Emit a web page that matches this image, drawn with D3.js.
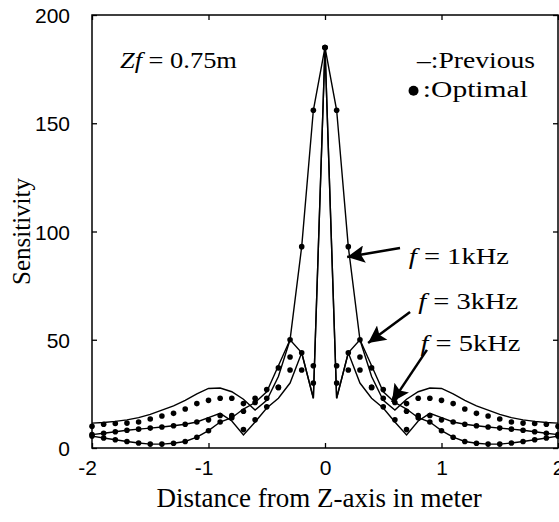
<!DOCTYPE html>
<html>
<head>
<meta charset="utf-8">
<script src="https://cdn.jsdelivr.net/npm/d3@7"></script>
<style>
  html, body { margin: 0; padding: 0; background: #fff; }
  svg { display: block; }
  .serif { font-family: "Liberation Serif", "Times New Roman", serif; }
  .sans { font-family: "Liberation Sans", Arial, sans-serif; }
</style>
</head>
<body>
<div id="chart"></div>
<script>
// Distance from Z-axis (m), one sample every 0.1 m
const xGrid = [-2.0, -1.9, -1.8, -1.7, -1.6, -1.5, -1.4, -1.3, -1.2, -1.1, -1.0, -0.9, -0.8, -0.7, -0.6, -0.5, -0.4, -0.3, -0.2, -0.1,
  0.0, 0.1, 0.2, 0.3, 0.4, 0.5, 0.6, 0.7, 0.8, 0.9, 1.0, 1.1, 1.2, 1.3, 1.4, 1.5, 1.6, 1.7, 1.8, 1.9, 2.0]

// "Previous" design (solid lines)
const prev1k = [11.5, 11.8, 12.3, 13, 14, 15.5, 17.5, 19.5, 22, 25, 27.5, 27.7, 26, 22.5, 17.5, 22, 33, 50, 93, 156,
  185, 156, 93, 50, 33, 22, 17.5, 22.5, 26, 27.7, 27.5, 25, 22, 19.5, 17.5, 15.5, 14, 13, 12.3, 11.8, 11.5]
const prev3k = [6.2, 6.8, 7.5, 8.2, 8.7, 9.2, 9.7, 10.3, 11, 12, 14, 16, 12.5, 6, 12, 18.5, 23, 30, 44, 23,
  185, 23, 44, 30, 23, 18.5, 12, 6, 12.5, 16, 14, 12, 11, 10.3, 9.7, 9.2, 8.7, 8.2, 7.5, 6.8, 6.2]
const prev5k = [5.5, 4.6, 3.8, 3, 2.3, 1.8, 1.8, 2.2, 3, 5, 8, 12, 14, 18, 21, 26, 38, 50, 44, 23,
  185, 23, 44, 50, 38, 26, 21, 18, 14, 12, 8, 5, 3, 2.2, 1.8, 1.8, 2.3, 3, 3.8, 4.6, 5.5]

// "Optimal" design (dots)
const opt1k = [10, 11, 11.3, 11.5, 12, 13.4, 14.8, 16, 18, 20.5, 22, 23, 23, 20.5, 23, 27, 28, 50, 93, 156,
  185, 156, 93, 50, 28, 27, 23, 20.5, 23, 23, 22, 20.5, 18, 16, 14.8, 13.4, 12, 11.5, 11.3, 11, 10]
const opt3k = [6.2, 6.8, 7.5, 8.2, 8.7, 9.2, 9.7, 10.3, 11, 12, 13, 15, 14, 8.5, 13, 19, 37, 36, 44, 38,
  185, 38, 44, 36, 37, 19, 13, 8.5, 14, 15, 13, 12, 11, 10.3, 9.7, 9.2, 8.7, 8.2, 7.5, 6.8, 6.2]
const opt5k = [5.5, 4.6, 3.8, 3, 2.3, 1.8, 1.8, 2.2, 3, 5, 8, 12, 15, 17, 21, 23, 28, 42, 36, 30,
  185, 30, 36, 42, 28, 23, 21, 17, 15, 12, 8, 5, 3, 2.2, 1.8, 1.8, 2.3, 3, 3.8, 4.6, 5.5]

const xTicks = [-2, -1, 0, 1, 2]
const yTicks = [0, 50, 100, 150, 200]

// frequency labels and their arrows, in data units
const freqLabels = ["1kHz", "3kHz", "5kHz"]
const labelPos = [[0.72, 85], [0.8, 64], [0.82, 45]]
const arrowTail = [[0.644, 92.4], [0.73, 62.8], [0.875, 45.3]]
const arrowTip = [[0.19, 88.2], [0.37, 48.5], [0.575, 21.2]]

const width = 559
const height = 522
const margin = { top: 15, right: 1, bottom: 74, left: 92 }

const svg = d3.select("#chart")
  .append("svg")
  .attr("width", width)
  .attr("height", height)

const x = d3.scaleLinear().domain([-2, 2]).range([margin.left, width - margin.right])
const y = d3.scaleLinear().domain([0, 200]).range([height - margin.bottom, margin.top])

// axes with inward ticks on all four sides
const xAxis = svg.append("g")
  .attr("transform", `translate(0,${y(0)})`)
  .call(d3.axisBottom(x).tickValues(xTicks).tickSize(-5).tickPadding(12).tickFormat(d => String(d)))
const xAxisTop = svg.append("g")
  .attr("transform", `translate(0,${y(200)})`)
  .call(d3.axisTop(x).tickValues(xTicks).tickSize(-5).tickFormat(""))
const yAxis = svg.append("g")
  .attr("transform", `translate(${x(-2)},0)`)
  .call(d3.axisLeft(y).tickValues(yTicks).tickSize(-5).tickPadding(22).tickFormat(d => String(d)))
const yAxisRight = svg.append("g")
  .attr("transform", `translate(${x(2)},0)`)
  .call(d3.axisRight(y).tickValues(yTicks).tickSize(-5).tickFormat(""))

;[xAxis, xAxisTop, yAxis, yAxisRight].forEach(g => {
  g.select(".domain").remove()
  g.selectAll(".tick line").attr("stroke", "#000").attr("stroke-width", 1.3)
  g.selectAll("text")
    .attr("class", "sans")
    .attr("fill", "#000")
    .style("font-size", "21px")
})
yAxis.selectAll("text").attr("dy", "0.36em")
// negative labels sit a little left of their ticks
xAxis.selectAll("text").attr("dx", d => d < 0 ? -5 : 0)

// frame
svg.append("rect")
  .attr("x", x(-2))
  .attr("y", y(200))
  .attr("width", x(2) - x(-2))
  .attr("height", y(0) - y(200))
  .attr("fill", "none")
  .attr("stroke", "#000")
  .attr("stroke-width", 1.5)

// previous: solid lines
const line = d3.line()
  .x((d, i) => x(xGrid[i]))
  .y(d => y(d))

;[prev1k, prev3k, prev5k].forEach(series => {
  svg.append("path")
    .datum(series)
    .attr("d", line)
    .attr("fill", "none")
    .attr("stroke", "#000")
    .attr("stroke-width", 1.4)
})

// optimal: dots
;[opt1k, opt3k, opt5k].forEach(series => {
  svg.append("g")
    .selectAll("circle")
    .data(series)
    .enter()
    .append("circle")
    .attr("cx", (d, i) => x(xGrid[i]))
    .attr("cy", d => y(d))
    .attr("r", 2.8)
    .attr("fill", "#000")
})

// arrow head
svg.append("defs").append("marker")
  .attr("id", "head")
  .attr("viewBox", "0 0 10 10")
  .attr("refX", 10)
  .attr("refY", 5)
  .attr("markerWidth", 11)
  .attr("markerHeight", 7)
  .attr("markerUnits", "strokeWidth")
  .attr("orient", "auto")
  .append("path")
  .attr("d", "M0,0 L10,5 L0,10 L2,5 Z")
  .attr("fill", "#000")

freqLabels.forEach((label, i) => {
  svg.append("line")
    .attr("x1", x(arrowTail[i][0]))
    .attr("y1", y(arrowTail[i][1]))
    .attr("x2", x(arrowTip[i][0]))
    .attr("y2", y(arrowTip[i][1]))
    .attr("stroke", "#000")
    .attr("stroke-width", 2.5)
    .attr("marker-end", "url(#head)")

  const t = svg.append("text")
    .attr("class", "serif")
    .attr("x", x(labelPos[i][0]))
    .attr("y", y(labelPos[i][1]))
    .attr("textLength", 100)
    .attr("lengthAdjust", "spacingAndGlyphs")
    .style("font-size", "23px")
  t.append("tspan").style("font-style", "italic").text("f")
  t.append("tspan").text(" = " + label)
})

// Zf annotation
const zf = svg.append("text")
  .attr("class", "serif")
  .attr("x", x(-1.76))
  .attr("y", y(175.5))
  .attr("textLength", 117)
  .attr("lengthAdjust", "spacingAndGlyphs")
  .style("font-size", "23px")
zf.append("tspan").style("font-style", "italic").text("Zf")
zf.append("tspan").text(" = 0.75m")

// legend
svg.append("text")
  .attr("class", "serif")
  .attr("x", x(0.79))
  .attr("y", y(175.5))
  .attr("textLength", 118)
  .attr("lengthAdjust", "spacingAndGlyphs")
  .style("font-size", "24px")
  .text("\u2013:Previous")
svg.append("circle")
  .attr("cx", x(0.76))
  .attr("cy", y(165))
  .attr("r", 5)
  .attr("fill", "#000")
svg.append("text")
  .attr("class", "serif")
  .attr("x", x(0.84))
  .attr("y", y(162))
  .attr("textLength", 105)
  .attr("lengthAdjust", "spacingAndGlyphs")
  .style("font-size", "24px")
  .text(":Optimal")

// axis titles
svg.append("text")
  .attr("class", "serif")
  .attr("x", x(-0.05))
  .attr("y", 507)
  .attr("text-anchor", "middle")
  .style("font-size", "27px")
  .text("Distance from Z-axis in meter")

svg.append("text")
  .attr("class", "serif")
  .attr("transform", `translate(30,${y(100)}) rotate(-90)`)
  .attr("text-anchor", "middle")
  .style("font-size", "25px")
  .text("Sensitivity")
</script>
</body>
</html>
